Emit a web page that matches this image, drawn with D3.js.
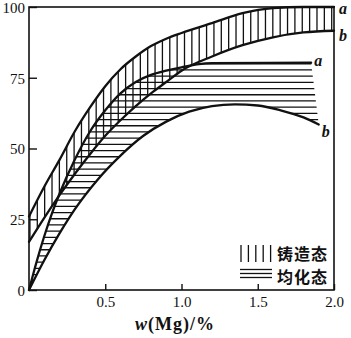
<!DOCTYPE html>
<html>
<head>
<meta charset="utf-8">
<script src="https://cdn.jsdelivr.net/npm/d3@7/dist/d3.min.js"></script>
<style>
  html, body { margin: 0; padding: 0; background: #fff; }
  svg { display: block; }
  .tick text { font-family: "Liberation Serif", "DejaVu Serif", serif; font-size: 15px; fill: #111; }
</style>
</head>
<body>
<svg id="chart" width="351" height="338"></svg>
<script>
// Mg content (%) sampled along the as-cast band
const castMg = [0, 0.1, 0.2, 0.3, 0.4, 0.5, 0.6, 0.7, 0.8, 0.9, 1.0, 1.2, 1.4, 1.6, 1.8, 2.0];
// 铸造态 upper (a) and lower (b) bounds
const castUpper = [26, 36.5, 46, 56, 64.5, 72, 78, 82.5, 86.2, 88.8, 90.8, 94.3, 97.8, 99.6, 100, 100];
const castLower = [17, 25.5, 33.5, 41, 48, 54.5, 60, 65, 69.5, 73.5, 77.5, 82.5, 86.5, 89.3, 91, 91.6];

// 均化态 upper bound (a)
const homogUpperMg = [0, 0.05, 0.1, 0.15, 0.2, 0.3, 0.4, 0.5, 0.6, 0.7, 0.8, 0.9, 1.0, 1.1, 1.2, 1.85];
const homogUpper = [0, 10, 19, 27, 34, 46, 56, 63.5, 69.5, 73.5, 76, 77.5, 78.7, 79.7, 80.2, 80.3];
// 均化态 lower bound (b)
const homogLowerMg = [0, 0.1, 0.2, 0.3, 0.45, 0.6, 0.75, 0.9, 1.05, 1.2, 1.35, 1.5, 1.65, 1.8, 1.9];
const homogLower = [0, 10.5, 20, 28.5, 39, 47.5, 54.5, 59.5, 63, 65, 65.6, 65.2, 63.5, 61, 58.5];

const xTicks = [0.5, 1.0, 1.5, 2.0];
const yTicks = [0, 25, 50, 75, 100];
const legendLabels = ["铸造态", "均化态"];
const curveLabels = ["a", "b"];

const svg = d3.select("#chart");
const x = d3.scaleLinear().domain([0, 2]).range([29, 334]);
const y = d3.scaleLinear().domain([0, 100]).range([290, 7]);

const pts = (xs, ys) => xs.map((v, i) => [v, ys[i]]);
const line = d3.line().x(d => x(d[0])).y(d => y(d[1])).curve(d3.curveMonotoneX);
// closed outline between an upper and a lower curve
function bandPath(upper, lower) {
  const top = line(upper);
  const bottom = line(lower.slice().reverse());
  return top + "L" + bottom.slice(1) + "Z";
}

const castA = pts(castMg, castUpper);
const castB = pts(castMg, castLower);
const homA = pts(homogUpperMg, homogUpper);
const homB = pts(homogLowerMg, homogLower);

const defs = svg.append("defs");
defs.append("clipPath").attr("id", "castClip").append("path").attr("d", bandPath(castA, castB));
defs.append("clipPath").attr("id", "homClip").append("path").attr("d", bandPath(homA, homB));

// vertical hatching for the as-cast band
const vStep = 7.36;
svg.append("g").attr("clip-path", "url(#castClip)")
  .selectAll("line").data(d3.range(x(2) - 2.3, x(0), -vStep)).join("line")
  .attr("x1", d => d).attr("x2", d => d)
  .attr("y1", y(100)).attr("y2", y(0))
  .attr("stroke", "#111").attr("stroke-width", 1.3);

// horizontal hatching for the homogenised band
const hStep = 6.2;
svg.append("g").attr("clip-path", "url(#homClip)")
  .selectAll("line").data(d3.range(y(d3.max(homogUpper)) + 7.2 - hStep * 2, y(0), hStep)).join("line")
  .attr("x1", x(0)).attr("x2", x(2))
  .attr("y1", d => d).attr("y2", d => d)
  .attr("stroke", "#111").attr("stroke-width", 1.3);

// boundary curves
svg.append("g").selectAll("path").data([castA, castB, homA, homB]).join("path")
  .attr("d", line).attr("fill", "none").attr("stroke", "#111")
  .attr("stroke-width", 2.3).attr("stroke-linecap", "round");

// frame
svg.append("rect")
  .attr("x", x(0)).attr("y", y(100))
  .attr("width", x(2) - x(0)).attr("height", y(0) - y(100))
  .attr("fill", "none").attr("stroke", "#111").attr("stroke-width", 1.6);

// axes with inward ticks
const yAxis = svg.append("g").attr("transform", `translate(${x(0)},0)`)
  .call(d3.axisLeft(y).tickValues(yTicks).tickSize(-8).tickPadding(4).tickFormat(d3.format("d")));
yAxis.select(".domain").remove();
yAxis.selectAll("line").attr("stroke", "#111").attr("stroke-width", 1.4);
yAxis.selectAll("text").attr("dy", "0.36em");

const xAxis = svg.append("g").attr("transform", `translate(0,${y(0)})`)
  .call(d3.axisBottom(x).tickValues(xTicks).tickSize(-6).tickPadding(6).tickFormat(d3.format(".1f")));
xAxis.select(".domain").remove();
xAxis.selectAll("line").attr("stroke", "#111").attr("stroke-width", 1.4);

// axis title
const title = svg.append("text").attr("x", 175).attr("y", 330).attr("text-anchor", "middle")
  .attr("font-family", "Liberation Serif, serif").attr("font-size", 18)
  .attr("font-weight", "bold").attr("fill", "#111").attr("letter-spacing", 1);
title.append("tspan").attr("font-style", "italic").text("w");
title.append("tspan").text("(Mg)/%");

// curve labels
const lab = (px, py, t) => svg.append("text").attr("x", px).attr("y", py)
  .attr("font-family", "Liberation Serif, serif").attr("font-size", 16)
  .attr("font-style", "italic").attr("font-weight", "bold").attr("fill", "#111").text(t);
const castEndA = castA[castA.length - 1], castEndB = castB[castB.length - 1];
const homEndA = homA[homA.length - 1], homEndB = homB[homB.length - 1];
lab(x(castEndA[0]) + 5, y(castEndA[1]) + 7, curveLabels[0]);
lab(x(castEndB[0]) + 5, y(castEndB[1]) + 10, curveLabels[1]);
lab(x(homEndA[0]) + 3, y(homEndA[1]) + 3, curveLabels[0]);
lab(x(homEndB[0]) + 3, y(homEndB[1]) + 13, curveLabels[1]);

// legend
const lg = svg.append("g");
lg.selectAll("line.v").data(d3.range(5)).join("line").attr("class", "v")
  .attr("x1", d => 241 + d * 7.4).attr("x2", d => 241 + d * 7.4)
  .attr("y1", 245).attr("y2", 262)
  .attr("stroke", "#111").attr("stroke-width", 1.3);
lg.selectAll("line.h").data(d3.range(3)).join("line").attr("class", "h")
  .attr("x1", 240).attr("x2", 272)
  .attr("y1", d => 269.5 + d * 4).attr("y2", d => 269.5 + d * 4)
  .attr("stroke", "#111").attr("stroke-width", 1.3);
lg.selectAll("text").data(legendLabels).join("text")
  .attr("x", 277).attr("y", (d, i) => 259.5 + i * 23)
  .attr("font-family", "Noto Sans CJK SC, sans-serif").attr("font-size", 16)
  .attr("font-weight", "bold").attr("fill", "#111").attr("letter-spacing", 1)
  .text(d => d);
</script>
</body>
</html>
